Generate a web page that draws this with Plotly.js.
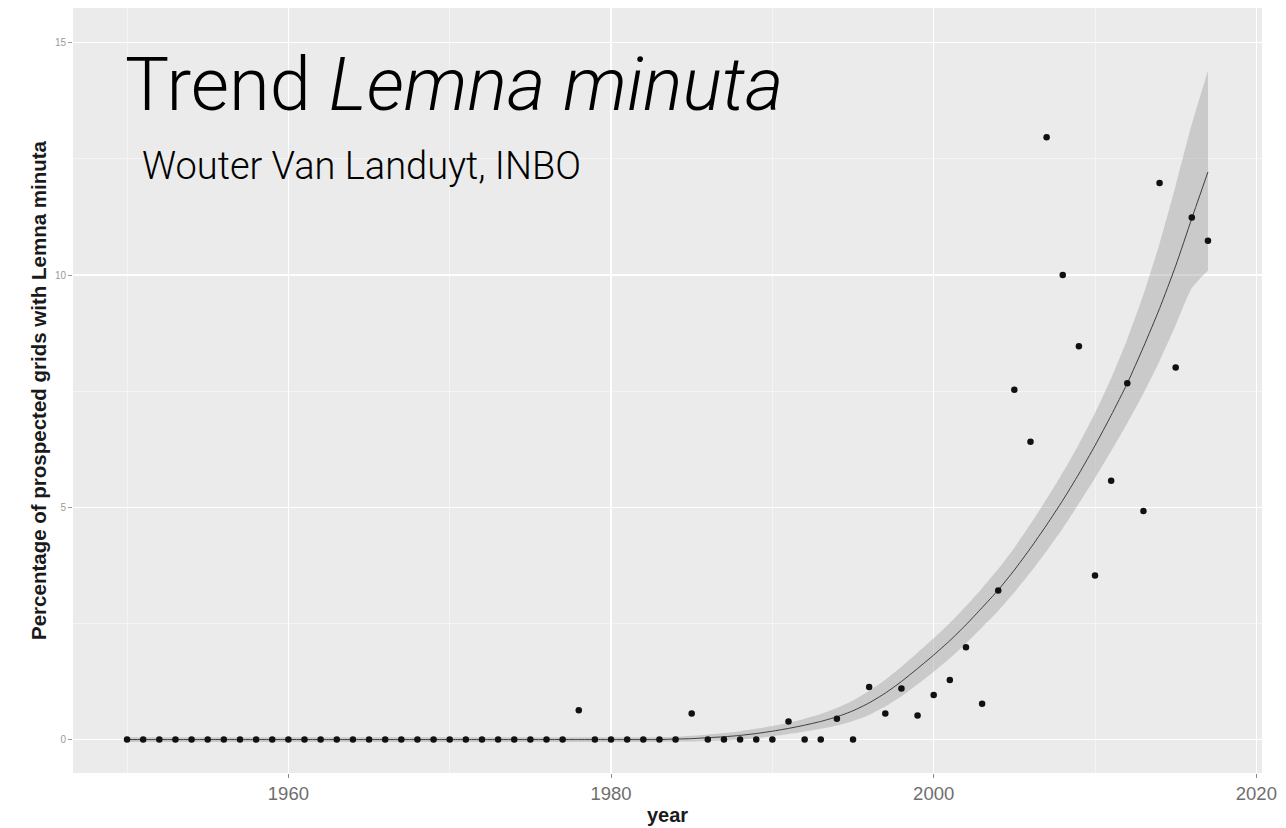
<!DOCTYPE html>
<html>
<head>
<meta charset="utf-8">
<script src="https://cdn.plot.ly/plotly-3.0.1.min.js"></script>
<style>
html,body{margin:0;padding:0;background:#fff;}
#chart{width:1286px;height:828px;}
</style>
</head>
<body>
<div id="chart"></div>
<script>
// ---- data ----
const years = [1950,1951,1952,1953,1954,1955,1956,1957,1958,1959,
  1960,1961,1962,1963,1964,1965,1966,1967,1968,1969,
  1970,1971,1972,1973,1974,1975,1976,1977,1978,1979,
  1980,1981,1982,1983,1984,1985,1986,1987,1988,1989,
  1990,1991,1992,1993,1994,1995,1996,1997,1998,1999,
  2000,2001,2002,2003,2004,2005,2006,2007,2008,2009,
  2010,2011,2012,2013,2014,2015,2016,2017];

// observed percentage of prospected grids with Lemna minuta
const observed = [0,0,0,0,0,0,0,0,0,0,
  0,0,0,0,0,0,0,0,0,0,
  0,0,0,0,0,0,0,0,0.63,0,
  0,0,0,0,0,0.56,0,0,0,0,
  0,0.39,0,0,0.45,0,1.13,0.56,1.10,0.52,
  0.96,1.28,1.99,0.77,3.21,7.53,6.41,12.97,10.00,8.47,
  3.53,5.57,7.67,4.92,11.98,8.01,11.24,10.74];

// smoothed trend line
const fitted = [0,0,0,0,0,0,0,0,0,0,
  0,0,0,0,0,0,0,0,0,0,
  0,0,0,0,0,0,0,0,0,0,
  0,0,0,0,0.01,0.02,0.04,0.06,0.09,0.13,
  0.18,0.24,0.31,0.39,0.49,0.62,0.79,1.00,1.25,1.53,
  1.82,2.13,2.47,2.84,3.22,3.65,4.12,4.62,5.15,5.72,
  6.33,6.98,7.67,8.45,9.28,10.20,11.22,12.22];

// confidence band
const bandLower = [-0.05,-0.05,-0.05,-0.05,-0.05,-0.05,-0.05,-0.05,-0.05,-0.05,
  -0.05,-0.05,-0.05,-0.05,-0.05,-0.05,-0.05,-0.05,-0.05,-0.05,
  -0.05,-0.05,-0.05,-0.05,-0.05,-0.05,-0.05,-0.05,-0.05,-0.05,
  -0.05,-0.05,-0.05,-0.05,-0.04,-0.04,-0.03,-0.02,0.00,0.03,
  0.07,0.12,0.17,0.23,0.30,0.40,0.53,0.71,0.93,1.19,
  1.46,1.75,2.07,2.42,2.77,3.17,3.60,4.06,4.55,5.08,
  5.63,6.21,6.81,7.45,8.15,8.92,9.72,10.10];
const bandUpper = [0.05,0.05,0.05,0.05,0.05,0.05,0.05,0.05,0.05,0.05,
  0.05,0.05,0.05,0.05,0.05,0.05,0.05,0.05,0.05,0.05,
  0.05,0.05,0.05,0.05,0.05,0.05,0.05,0.05,0.05,0.05,
  0.05,0.05,0.05,0.05,0.06,0.08,0.11,0.14,0.18,0.23,
  0.29,0.36,0.45,0.55,0.68,0.84,1.05,1.29,1.57,1.87,
  2.18,2.51,2.87,3.26,3.67,4.13,4.64,5.18,5.75,6.36,
  7.03,7.78,8.62,9.58,10.68,11.93,13.25,14.40];

const xTickVals = [1960,1980,2000,2020];
const xTickText = ['1960','1980','2000','2020'];
const yTickVals = [0,5,10,15];
const yTickText = ['0','5','10','15'];

const titleMain = 'Trend <i>Lemna minuta</i>';
const subtitleText = 'Wouter Van Landuyt, INBO';
const xTitle = 'year';
const yTitle = 'Percentage of prospected grids with Lemna minuta';

// ---- traces ----
const traces = [
  {x: years, y: bandLower, type: 'scatter', mode: 'lines',
   line: {width: 0, color: 'rgba(0,0,0,0)', shape: 'spline', smoothing: 0.6}, hoverinfo: 'skip', showlegend: false},
  {x: years, y: bandUpper, type: 'scatter', mode: 'lines', fill: 'tonexty',
   fillcolor: 'rgba(153,153,153,0.4)', line: {width: 0, color: 'rgba(0,0,0,0)', shape: 'spline', smoothing: 0.6},
   hoverinfo: 'skip', showlegend: false},
  {x: years, y: fitted, type: 'scatter', mode: 'lines',
   line: {width: 1, color: '#3c3c3c', shape: 'spline', smoothing: 0.6}, showlegend: false},
  {x: years, y: observed, type: 'scatter', mode: 'markers',
   marker: {size: 6.5, color: '#111111'}, showlegend: false}
];

const layout = {
  width: 1286, height: 828,
  paper_bgcolor: '#ffffff', plot_bgcolor: '#ebebeb',
  margin: {l: 73, r: 24, t: 8, b: 55, pad: 0},
  showlegend: false,
  font: {family: 'Liberation Sans, Arial, sans-serif', color: '#333'},
  title: {
    text: titleMain, xref: 'paper', yref: 'container',
    x: 0.0437, xanchor: 'left', y: 0.898, yanchor: 'middle',
    font: {family: 'Roboto, Lato, sans-serif', size: 74, weight: 300, color: '#000'}
  },
  annotations: [{
    text: subtitleText, xref: 'paper', yref: 'paper',
    x: 0.0565, xanchor: 'left', y: 0.793, yanchor: 'middle',
    showarrow: false,
    font: {family: 'Roboto, Lato, sans-serif', size: 38, weight: 300, color: '#000'}
  }],
  xaxis: {
    range: [1946.65, 2020.35], tickmode: 'array', tickvals: xTickVals, ticktext: xTickText,
    showgrid: true, gridcolor: '#ffffff', gridwidth: 1.3, zeroline: false, showline: false,
    ticks: 'outside', ticklen: 4, tickwidth: 1, tickcolor: '#8a8a8a',
    tickfont: {size: 18.5, color: '#6e6e6e'},
    minor: {tickvals: [1950,1970,1990,2010], showgrid: true, gridcolor: '#f6f6f6', gridwidth: 0.8, ticks: ''},
    title: {text: xTitle, font: {size: 20, weight: 'bold', color: '#1a1a1a'}, standoff: 4},
    fixedrange: true
  },
  yaxis: {
    range: [-0.72, 15.75], tickmode: 'array', tickvals: yTickVals, ticktext: yTickText,
    showgrid: true, gridcolor: '#ffffff', gridwidth: 1.3, zeroline: false, showline: false,
    ticks: 'outside', ticklen: 4, tickwidth: 1, tickcolor: '#9a9a9a',
    tickfont: {size: 10, color: '#999999'},
    minor: {tickvals: [2.5,7.5,12.5], showgrid: true, gridcolor: '#f6f6f6', gridwidth: 0.8, ticks: ''},
    title: {text: yTitle, font: {size: 20.5, weight: 'bold', color: '#1a1a1a'}, standoff: 2},
    fixedrange: true
  }
};

Plotly.newPlot('chart', traces, layout, {displayModeBar: false, staticPlot: true});
</script>
</body>
</html>
